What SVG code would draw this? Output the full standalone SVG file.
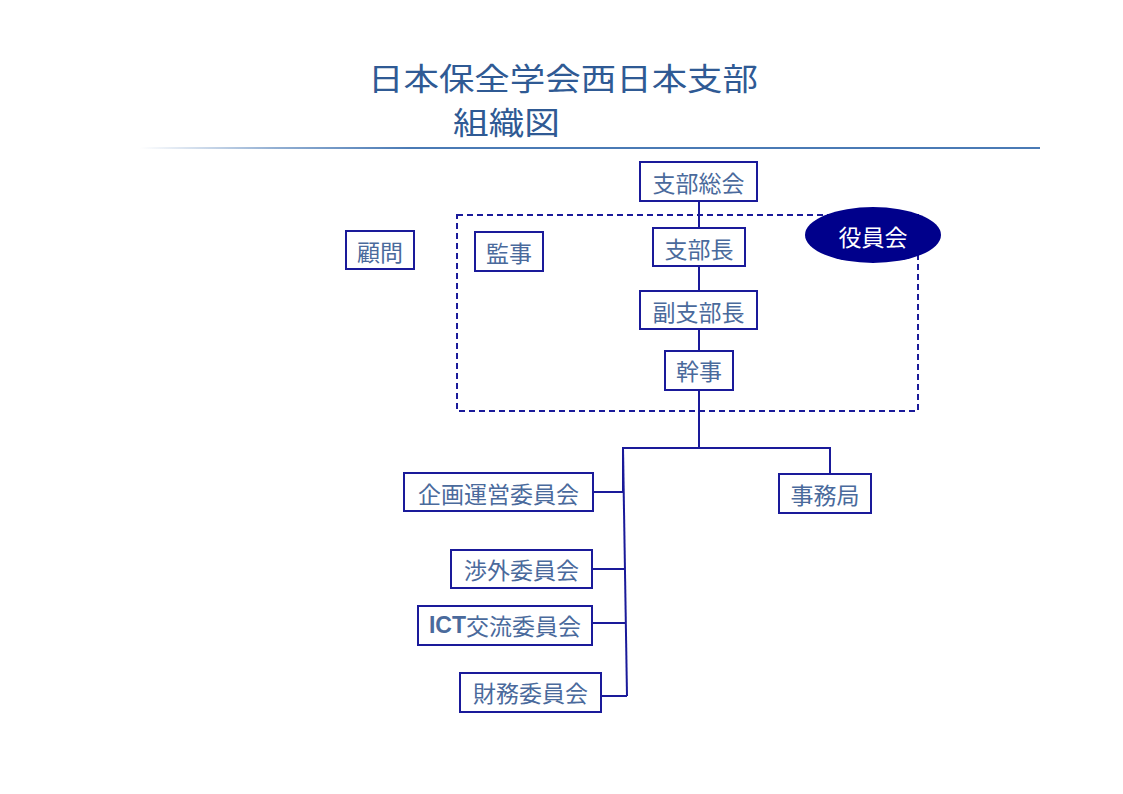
<svg xmlns="http://www.w3.org/2000/svg" width="1123" height="794" viewBox="0 0 1123 794">
<defs>
<linearGradient id="rule" x1="140" y1="0" x2="1040" y2="0" gradientUnits="userSpaceOnUse">
<stop offset="0" stop-color="#4a7ab5" stop-opacity="0"/>
<stop offset="0.15" stop-color="#4a7ab5" stop-opacity="0.6"/>
<stop offset="0.3" stop-color="#4a7ab5"/>
<stop offset="1" stop-color="#4a7ab5"/>
</linearGradient>
</defs>
<style>
.box{fill:#fff;stroke:#1a1a9a;stroke-width:2}
.lbl{font-family:"Noto Sans CJK JP","Liberation Sans",sans-serif;font-size:23px;fill:#4a6a9c;text-anchor:middle;dominant-baseline:central}
.title{font-family:"Noto Sans CJK JP","Liberation Sans",sans-serif;font-size:31px;fill:#2f5a94}
.ln{fill:none;stroke:#1a1a9a;stroke-width:2}
</style>
<rect width="1123" height="794" fill="#fff"/>
<text class="title" x="368" y="90" textLength="390" lengthAdjust="spacingAndGlyphs">日本保全学会西日本支部</text>
<text class="title" x="453" y="134" textLength="107" lengthAdjust="spacingAndGlyphs">組織図</text>
<rect x="140" y="147" width="900" height="2" fill="url(#rule)"/>
<g id="connectors">
<line class="ln" x1="699" y1="201" x2="699" y2="448"/>
<polyline class="ln" points="623,492 623,448 830,448 830,474"/>
<line class="ln" x1="623" y1="448" x2="627" y2="696"/>
<line class="ln" x1="593" y1="492" x2="624" y2="492"/>
<line class="ln" x1="592" y1="569" x2="625" y2="569"/>
<line class="ln" x1="592" y1="623" x2="626" y2="623"/>
<line class="ln" x1="601" y1="696" x2="627" y2="696"/>
</g>
<g id="yakuin-area">
<rect x="457" y="215" width="461" height="196" fill="none" stroke="#1a1a9a" stroke-width="2" stroke-dasharray="6,4"/>
</g>
<g id="shibu-sokai"><rect class="box" x="640" y="162" width="117" height="39"/><text class="lbl" x="698.5" y="182">支部総会</text></g>
<g id="yakuinkai"><ellipse cx="873" cy="235" rx="68" ry="28" fill="#00008b"/><text class="lbl" x="873" y="236" style="fill:#fff">役員会</text></g>
<g id="komon"><rect class="box" x="346" y="231" width="68" height="38"/><text class="lbl" x="380" y="250.5">顧問</text></g>
<g id="kanji"><rect class="box" x="475" y="232" width="68" height="39"/><text class="lbl" x="509" y="252">監事</text></g>
<g id="shibucho"><rect class="box" x="653" y="228" width="92" height="38"/><text class="lbl" x="699" y="247.5">支部長</text></g>
<g id="fuku-shibucho"><rect class="box" x="640" y="291" width="117" height="38"/><text class="lbl" x="698.5" y="310.5">副支部長</text></g>
<g id="kanji2"><rect class="box" x="665" y="351" width="68" height="39"/><text class="lbl" x="699" y="370">幹事</text></g>
<g id="jimukyoku"><rect class="box" x="779" y="474" width="92" height="39"/><text class="lbl" x="825" y="494">事務局</text></g>
<g id="kikaku"><rect class="box" x="404" y="473" width="189" height="38"/><text class="lbl" x="498.5" y="492.5">企画運営委員会</text></g>
<g id="shogai"><rect class="box" x="451" y="550" width="141" height="38"/><text class="lbl" x="521.5" y="569">渉外委員会</text></g>
<g id="ict"><rect class="box" x="418" y="606" width="174" height="39"/><text class="lbl" x="505" y="625"><tspan style="font-family:'Liberation Sans',sans-serif;font-weight:bold">ICT</tspan>交流委員会</text></g>
<g id="zaimu"><rect class="box" x="460" y="673" width="141" height="39"/><text class="lbl" x="530.5" y="692">財務委員会</text></g>
</svg>
